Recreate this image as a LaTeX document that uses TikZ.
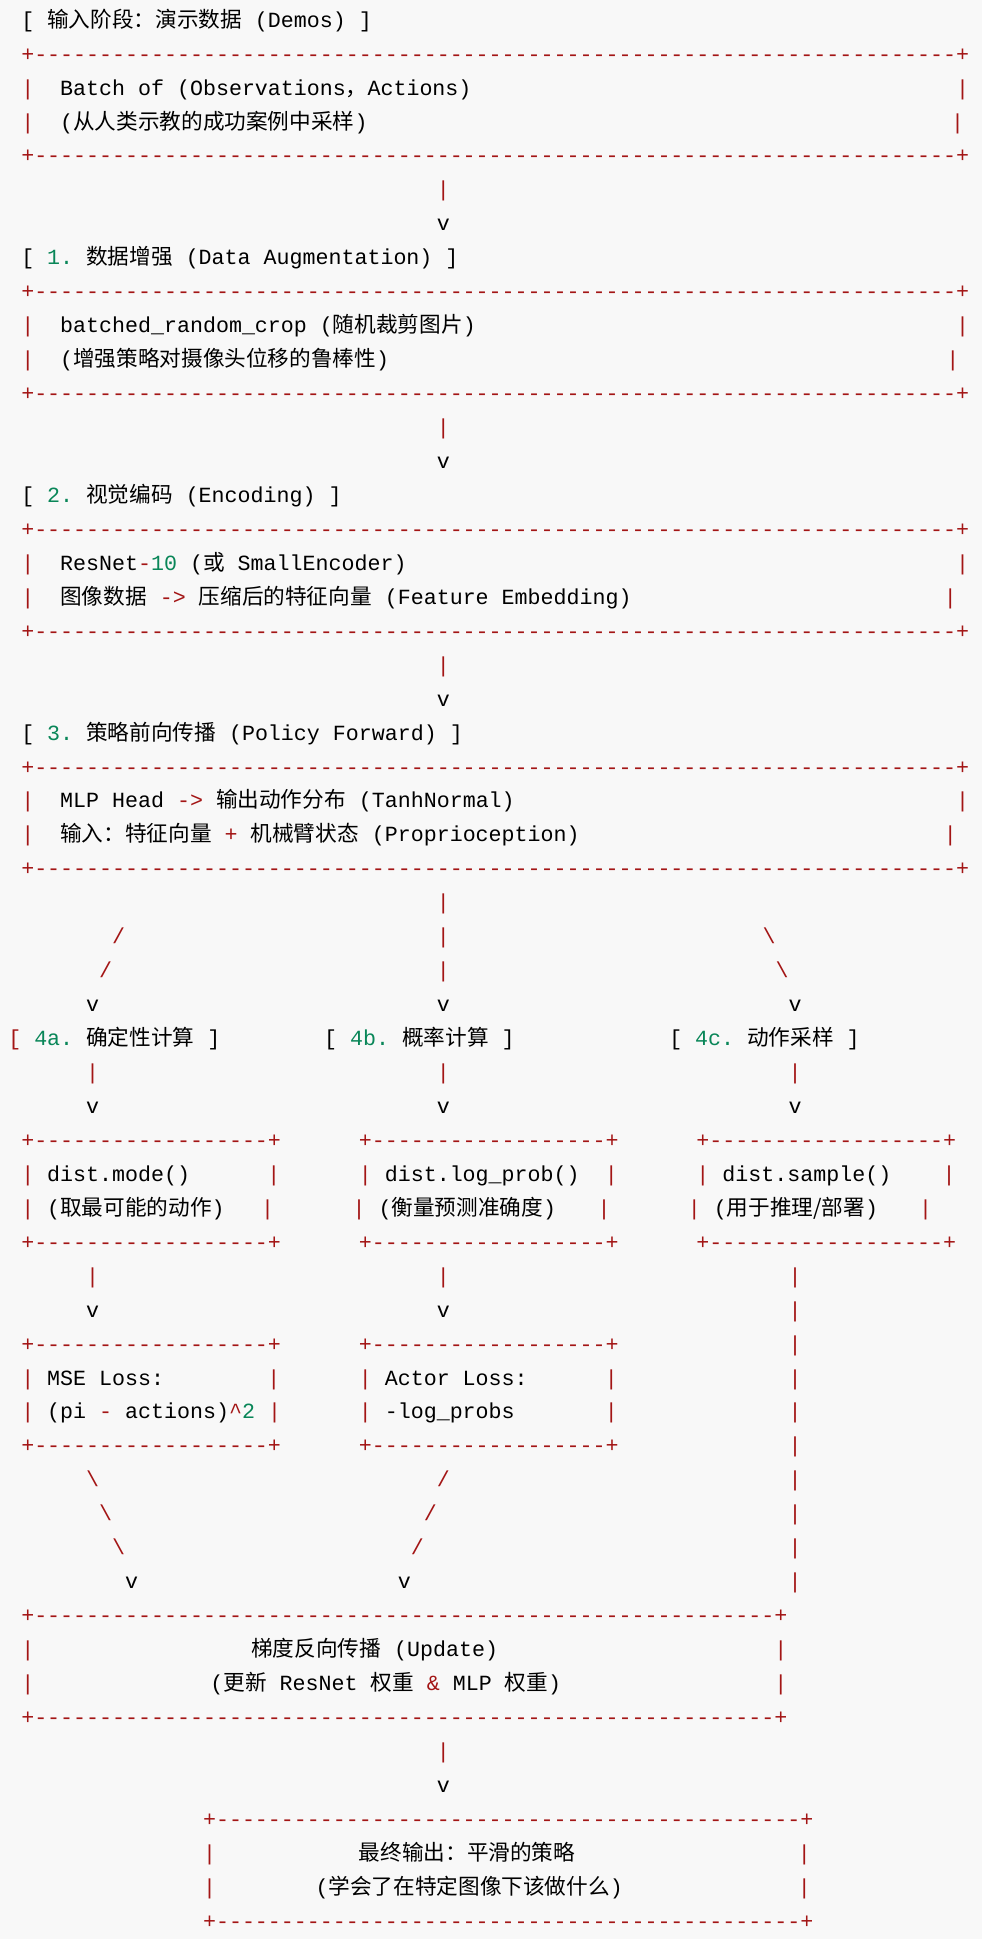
\documentclass[tikz,border=0pt]{standalone}
\usepackage{fontspec}
\setmonofont{Liberation Mono}
\newfontfamily\cjk{Noto Sans CJK SC}
\definecolor{bd}{HTML}{A31515}
\definecolor{num}{HTML}{098658}
\definecolor{bgc}{HTML}{F8F8F8}
\newcommand\C[1]{{\cjk #1}}
\newcommand\R[1]{{\color{bd}#1}}
\newcommand\N[1]{{\color{num}#1}}
\newcommand\Dsh[1]{\foreach\i in {1,...,#1}{-}}
\newcommand\Bx[3]{\node[txt] (b#1x#2) at (#1,{17+(#2-1)*27.45+5}) {\R{+\Dsh{#3}+}};}
\newcommand\T[3]{\node[txt] at (#1,{17+(#2-1)*27.45+5}) {#3};}
\begin{document}
\begin{tikzpicture}[x=1pt,y=-1pt,
  txt/.style={anchor=base west,inner sep=0pt,font=\ttfamily\fontsize{17.5}{20}\selectfont,text=black}]
\useasboundingbox[fill=bgc] (0,0) rectangle (794,1568);
% input stage
\T{17}{1}{[ \C{输入阶段：演示数据} (Demos) ]}
\Bx{17}{2}{71}
\T{17}{3}{\R{|}\ \ Batch of (Observations\C{，}Actions)}
\T{773}{3}{\R{|}}
\T{17}{4}{\R{|}\ \ (\C{从人类示教的成功案例中采样})}
\T{769}{4}{\R{|}}
\Bx{17}{5}{71}
\T{353}{6}{\R{|}}
\T{353}{7}{v}
% 1
\T{17}{8}{[ \N{1.} \C{数据增强} (Data Augmentation) ]}
\Bx{17}{9}{71}
\T{17}{10}{\R{|}\ \ batched\_random\_crop (\C{随机裁剪图片})}
\T{773}{10}{\R{|}}
\T{17}{11}{\R{|}\ \ (\C{增强策略对摄像头位移的鲁棒性})}
\T{765}{11}{\R{|}}
\Bx{17}{12}{71}
\T{353}{13}{\R{|}}
\T{353}{14}{v}
% 2
\T{17}{15}{[ \N{2.} \C{视觉编码} (Encoding) ]}
\Bx{17}{16}{71}
\T{17}{17}{\R{|}\ \ ResNet\R{-}\N{10} (\C{或} SmallEncoder)}
\T{773}{17}{\R{|}}
\T{17}{18}{\R{|}\ \ \C{图像数据} \R{->} \C{压缩后的特征向量} (Feature Embedding)}
\T{763}{18}{\R{|}}
\Bx{17}{19}{71}
\T{353}{20}{\R{|}}
\T{353}{21}{v}
% 3
\T{17}{22}{[ \N{3.} \C{策略前向传播} (Policy Forward) ]}
\Bx{17}{23}{71}
\T{17}{24}{\R{|}\ \ MLP Head \R{->} \C{输出动作分布} (TanhNormal)}
\T{773}{24}{\R{|}}
\T{17}{25}{\R{|}\ \ \C{输入：特征向量} \R{+} \C{机械臂状态} (Proprioception)}
\T{763}{25}{\R{|}}
\Bx{17}{26}{71}
\T{353}{27}{\R{|}}
% split
\T{90.5}{28}{\R{/}}
\T{353}{28}{\R{|}}
\T{616.5}{28}{\R{\textbackslash}}
\T{80}{29}{\R{/}}
\T{353}{29}{\R{|}}
\T{627}{29}{\R{\textbackslash}}
\T{69.5}{30}{v}
\T{353}{30}{v}
\T{637.5}{30}{v}
% labels
\T{6.5}{31}{\R{[} \N{4a.} \C{确定性计算} ]}
\T{262}{31}{[ \N{4b.} \C{概率计算} ]}
\T{541}{31}{[ \N{4c.} \C{动作采样} ]}
\T{69.5}{32}{\R{|}}\T{353}{32}{\R{|}}\T{637.5}{32}{\R{|}}
\T{69.5}{33}{v}\T{353}{33}{v}\T{637.5}{33}{v}
% boxes row
\Bx{17}{34}{18}\Bx{290}{34}{18}\Bx{563}{34}{18}
\T{17}{35}{\R{|} dist.mode()}\T{216}{35}{\R{|}}
\T{290}{35}{\R{|} dist.log\_prob()}\T{489}{35}{\R{|}}
\T{563}{35}{\R{|} dist.sample()}\T{762}{35}{\R{|}}
\T{17}{36}{\R{|} (\C{取最可能的动作})}\T{211}{36}{\R{|}}
\T{285}{36}{\R{|} (\C{衡量预测准确度})}\T{483}{36}{\R{|}}
\T{556}{36}{\R{|} (\C{用于推理/部署})}\T{743}{36}{\R{|}}
\Bx{17}{37}{18}\Bx{290}{37}{18}\Bx{563}{37}{18}
\T{69.5}{38}{\R{|}}\T{353}{38}{\R{|}}
\T{69.5}{39}{v}\T{353}{39}{v}
\Bx{17}{40}{18}\Bx{290}{40}{18}
\T{17}{41}{\R{|} MSE Loss:}\T{216}{41}{\R{|}}
\T{290}{41}{\R{|} Actor Loss:}\T{489}{41}{\R{|}}
\T{17}{42}{\R{|} (pi \R{-} actions)\R{\textasciicircum}\N{2} \R{|}}
\T{290}{42}{\R{|} -log\_probs}\T{489}{42}{\R{|}}
\Bx{17}{43}{18}\Bx{290}{43}{18}
\foreach \r in {38,...,47}{\T{637.5}{\r}{\R{|}}}
% merge
\T{69.5}{44}{\R{\textbackslash}}\T{353}{44}{\R{/}}
\T{80}{45}{\R{\textbackslash}}\T{342.5}{45}{\R{/}}
\T{90.5}{46}{\R{\textbackslash}}\T{332}{46}{\R{/}}
\T{101}{47}{v}\T{321.5}{47}{v}
% update
\Bx{17}{48}{57}
\T{17}{49}{\R{|}}\T{203}{49}{\C{梯度反向传播} (Update)}\T{626}{49}{\R{|}}
\T{17}{50}{\R{|}}\T{170}{50}{(\C{更新} ResNet \C{权重} \R{\&} MLP \C{权重})}\T{626}{50}{\R{|}}
\Bx{17}{51}{57}
\T{353}{52}{\R{|}}
\T{353}{53}{v}
% final
\Bx{164}{54}{45}
\T{164}{55}{\R{|}}\T{290}{55}{\C{最终输出：平滑的策略}}\T{645}{55}{\R{|}}
\T{164}{56}{\R{|}}\T{255}{56}{(\C{学会了在特定图像下该做什么})}\T{645}{56}{\R{|}}
\Bx{164}{57}{45}
\end{tikzpicture}
\end{document}
